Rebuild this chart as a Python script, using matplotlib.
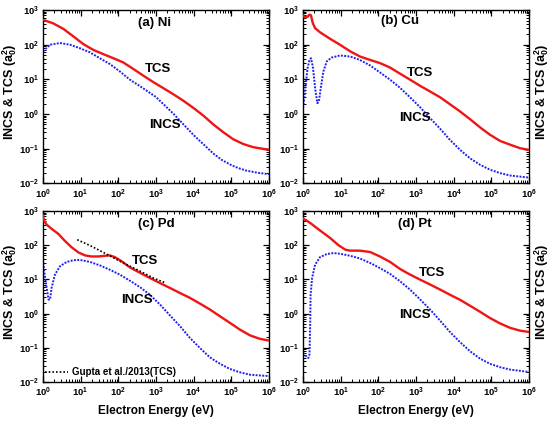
import numpy as np
import matplotlib
matplotlib.use("Agg")
import matplotlib.pyplot as plt
from matplotlib.ticker import LogLocator, NullFormatter

plt.rcParams['font.family'] = ['Liberation Sans', 'DejaVu Sans']
plt.rcParams['font.weight'] = 'bold'
plt.rcParams['mathtext.fontset'] = 'custom'
plt.rcParams['mathtext.rm'] = 'Liberation Sans:bold'
plt.rcParams['mathtext.it'] = 'Liberation Sans:bold'
plt.rcParams['mathtext.bf'] = 'Liberation Sans:bold'

# values: log10(E / eV) and log10(sigma / a0^2)
# (a) Ni
ni_tcs_loge = [0, 0.27, 0.54, 0.81, 1.07, 1.34, 1.60, 1.87, 2.13, 2.40, 2.66, 2.93, 3.19, 3.46, 3.73, 4.0, 4.26, 4.52,
               4.79, 5.05, 5.32, 5.58, 5.85, 6.0]
ni_tcs_logs = [2.72, 2.62, 2.46, 2.24, 2.02, 1.85, 1.73, 1.61, 1.49, 1.30, 1.11, 0.92, 0.75, 0.57, 0.38, 0.17, -0.05, -0.30,
               -0.53, -0.73, -0.87, -0.96, -1.01, -1.03]
ni_incs_loge = [0, 0.19, 0.45, 0.72, 0.98, 1.25, 1.51, 1.78, 2.04, 2.31, 2.58, 3.0, 3.46, 4.0, 4.52, 4.75, 5.0, 5.2,
                5.41, 5.7, 6.0]
ni_incs_logs = [1.81, 2.00, 2.05, 2.00, 1.90, 1.78, 1.61, 1.44, 1.23, 0.99, 0.80, 0.49, 0.01, -0.61, -1.14, -1.33, -1.48, -1.57,
                -1.64, -1.70, -1.74]

# (b) Cu
cu_tcs_loge = [0, 0.05, 0.12, 0.17, 0.21, 0.26, 0.32, 0.45, 0.72, 0.98, 1.25, 1.51, 1.78, 2.04, 2.31, 2.58, 2.84, 3.11,
               3.37, 3.64, 3.90, 4.17, 4.43, 4.70, 4.96, 5.23, 5.50, 5.76, 6.0]
cu_tcs_logs = [2.85, 2.79, 2.81, 2.87, 2.85, 2.62, 2.48, 2.36, 2.17, 2.00, 1.81, 1.66, 1.56, 1.47, 1.34, 1.16, 0.99, 0.81,
               0.65, 0.48, 0.28, 0.07, -0.15, -0.39, -0.60, -0.78, -0.89, -0.99, -1.04]
cu_incs_loge = [0, 0.05, 0.12, 0.17, 0.21, 0.26, 0.32, 0.38, 0.42, 0.47, 0.54, 0.63, 0.76, 0.98, 1.25, 1.51, 1.78, 2.04,
                2.31, 2.58, 2.84, 3.11, 3.37, 3.64, 3.90, 4.17, 4.43, 4.70, 4.96, 5.23, 5.50, 6.0]
cu_incs_logs = [0.17, 0.65, 1.32, 1.56, 1.61, 1.37, 0.75, 0.31, 0.36, 0.75, 1.23, 1.52, 1.63, 1.69, 1.66, 1.56, 1.40, 1.20,
                0.99, 0.75, 0.48, 0.19, -0.12, -0.43, -0.75, -1.04, -1.28, -1.47, -1.61, -1.71, -1.78, -1.84]

# (c) Pd
pd_tcs_loge = [0, 0.03, 0.10, 0.23, 0.41, 0.58, 0.76, 0.94, 1.12, 1.29, 1.47, 1.65, 1.78, 1.91, 2.09, 2.31, 2.58, 2.84,
               3.11, 3.37, 3.64, 3.90, 4.17, 4.43, 4.70, 4.96, 5.23, 5.50, 5.76, 6.0]
pd_tcs_logs = [2.87, 2.72, 2.60, 2.48, 2.33, 2.13, 1.94, 1.79, 1.70, 1.67, 1.67, 1.69, 1.70, 1.65, 1.53, 1.35, 1.19, 1.04,
               0.89, 0.75, 0.60, 0.46, 0.29, 0.12, -0.08, -0.27, -0.47, -0.64, -0.74, -0.79]
pd_incs_loge = [0, 0.04, 0.10, 0.15, 0.19, 0.23, 0.32, 0.45, 0.63, 0.81, 0.98, 1.25, 1.51, 1.78, 2.04, 2.31, 2.58, 2.84,
                3.11, 3.37, 3.64, 3.90, 4.17, 4.43, 4.70, 4.96, 5.23, 5.50, 6.0]
pd_incs_logs = [1.58, 1.19, 0.75, 0.41, 0.41, 0.75, 1.14, 1.38, 1.51, 1.56, 1.57, 1.51, 1.41, 1.28, 1.14, 0.96, 0.77, 0.55,
                0.26, -0.05, -0.37, -0.71, -1.01, -1.28, -1.47, -1.62, -1.72, -1.79, -1.83]
gupta_loge = [0.91, 1.25, 1.69, 2.13, 2.58, 2.93, 3.27]
gupta_logs = [2.16, 1.99, 1.74, 1.48, 1.24, 1.04, 0.89]

# (d) Pt
pt_tcs_loge = [0, 0.19, 0.45, 0.72, 0.94, 1.12, 1.25, 1.51, 1.78, 2.04, 2.31, 2.58, 2.84, 3.11, 3.37, 3.64, 3.90, 4.17,
               4.43, 4.70, 4.96, 5.23, 5.50, 5.76, 6.0]
pt_tcs_logs = [2.78, 2.65, 2.43, 2.21, 2.00, 1.87, 1.84, 1.84, 1.80, 1.67, 1.51, 1.30, 1.14, 0.99, 0.85, 0.70, 0.55, 0.40,
               0.23, 0.05, -0.13, -0.29, -0.42, -0.50, -0.54]
pt_incs_loge = [0, 0.08, 0.14, 0.17, 0.19, 0.20, 0.24, 0.32, 0.45, 0.63, 0.81, 0.98, 1.25, 1.51, 1.78, 2.04, 2.31, 2.58,
                2.84, 3.11, 3.37, 3.64, 3.90, 4.17, 4.43, 4.70, 4.96, 5.23, 5.50, 6.0]
pt_incs_logs = [-1.15, -1.25, -1.30, -1.20, -0.32, 0.55, 1.04, 1.43, 1.65, 1.74, 1.77, 1.75, 1.69, 1.61, 1.48, 1.33, 1.16, 0.94,
                0.70, 0.41, 0.12, -0.21, -0.54, -0.84, -1.10, -1.32, -1.47, -1.57, -1.64, -1.71]

panels = [
    ("(a) Ni", ni_tcs_loge, ni_tcs_logs, ni_incs_loge, ni_incs_logs),
    ("(b) Cu", cu_tcs_loge, cu_tcs_logs, cu_incs_loge, cu_incs_logs),
    ("(c) Pd", pd_tcs_loge, pd_tcs_logs, pd_incs_loge, pd_incs_logs),
    ("(d) Pt", pt_tcs_loge, pt_tcs_logs, pt_incs_loge, pt_incs_logs),
]
# label positions (axes fractions): title, TCS, INCS
label_pos = [
    ((0.496, 0.925), (0.510, 0.661), (0.540, 0.337)),
    ((0.429, 0.935), (0.517, 0.636), (0.496, 0.376)),
    ((0.503, 0.924), (0.451, 0.709), (0.417, 0.481)),
    ((0.496, 0.924), (0.572, 0.637), (0.496, 0.394)),
]
rects = [
    [0.078, 0.566, 0.411, 0.410],
    [0.551, 0.566, 0.411, 0.410],
    [0.078, 0.095, 0.411, 0.405],
    [0.551, 0.095, 0.411, 0.405],
]

fig = plt.figure(figsize=(5.5, 4.22), dpi=100)
ylab = r"INCS & TCS (a$_0^2$)"
red = "#f01414"
blue = "#2020f0"

for i, (name, tx, ty, ix, iy) in enumerate(panels):
    ax = fig.add_axes(rects[i])
    ax.plot(10 ** np.array(tx), 10 ** np.array(ty), color=red, lw=1.7, zorder=3)
    ax.plot(10 ** np.array(ix), 10 ** np.array(iy), color=blue, lw=1.4, ls=(0, (1, 0.7)), zorder=2)
    if i == 2:
        ax.plot(10 ** np.array(gupta_loge), 10 ** np.array(gupta_logs), color="black", lw=1.2,
                ls=(0, (1, 1.2)), zorder=4)
        ax.plot([1.13, 4.5], [0.0196, 0.0196], color="black", lw=1.2, ls=(0, (1, 1.2)))
        ax.text(5.9, 0.0196, "Gupta et al./2013(TCS)", fontsize=7, fontweight="bold", va="center")
    ax.set_xscale("log")
    ax.set_yscale("log")
    ax.set_xlim(1, 1e6)
    ax.set_ylim(1e-2, 1e3)
    ax.xaxis.set_major_locator(LogLocator(base=10, numticks=10))
    ax.yaxis.set_major_locator(LogLocator(base=10, numticks=10))
    ax.xaxis.set_minor_locator(LogLocator(base=10, subs=np.arange(2, 10), numticks=10))
    ax.yaxis.set_minor_locator(LogLocator(base=10, subs=np.arange(2, 10), numticks=10))
    ax.xaxis.set_minor_formatter(NullFormatter())
    ax.yaxis.set_minor_formatter(NullFormatter())
    ax.tick_params(which="both", direction="in", top=True, right=True, labelsize=6.8, pad=3)
    ax.tick_params(which="major", length=4, width=0.9)
    ax.tick_params(which="minor", length=2, width=0.7)
    for sp in ax.spines.values():
        sp.set_linewidth(1.0)
    tp, tcp, icp = label_pos[i]
    ax.text(tp[0], tp[1], name, transform=ax.transAxes, fontsize=9.5, fontweight="bold", ha="center", va="center")
    ax.text(tcp[0], tcp[1], "TCS", transform=ax.transAxes, fontsize=9.5, fontweight="bold", ha="center", va="center")
    ax.text(icp[0], icp[1], "INCS", transform=ax.transAxes, fontsize=9.5, fontweight="bold", ha="center", va="center")
    ax.set_ylabel(ylab, fontsize=9, fontweight="bold")
    if i in (0, 2):
        ax.yaxis.set_label_coords(-0.105, 0.53)
    else:
        ax.yaxis.set_label_position("right")
        ax.yaxis.set_label_coords(1.015, 0.53)
    if i in (2, 3):
        ax.set_xlabel("Electron Energy (eV)", fontsize=8.5, fontweight="bold", labelpad=4)

fig.savefig("out.png", dpi=100)
